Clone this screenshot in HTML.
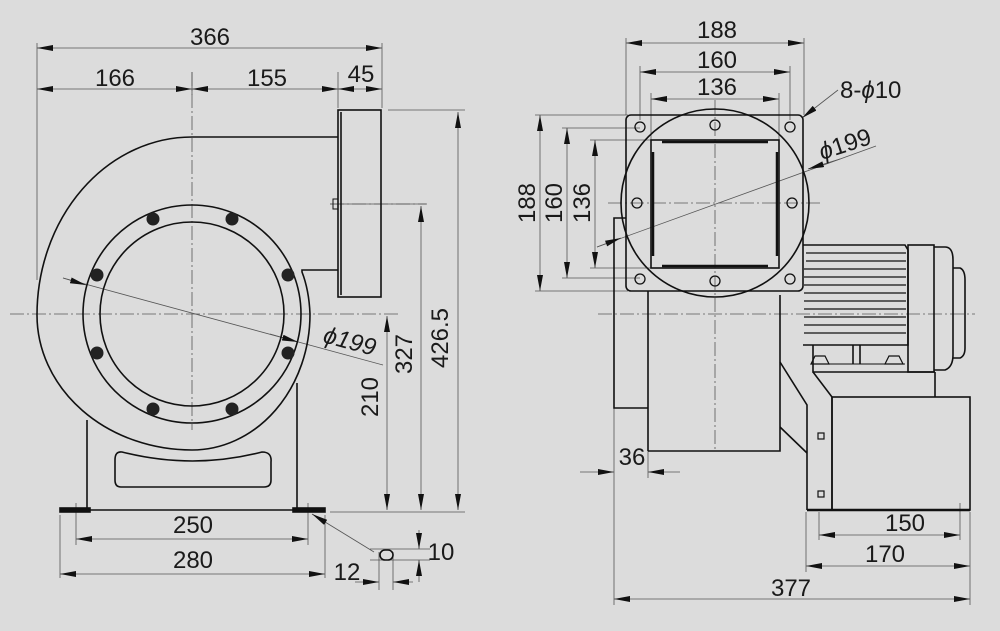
<!DOCTYPE html>
<html><head><meta charset="utf-8"><style>
html,body{margin:0;padding:0;background:#dcdcdc}
svg{display:block}
text{font-family:"Liberation Sans",Arial,sans-serif;font-size:24px;fill:#1a1a1a}
</style></head><body>
<svg width="1000" height="631" viewBox="0 0 1000 631" xmlns="http://www.w3.org/2000/svg">
<defs>
<marker id="a" viewBox="0 0 16 6" refX="16" refY="3" markerWidth="16" markerHeight="6" markerUnits="userSpaceOnUse" orient="auto-start-reverse"><path d="M0,0 L16,3 L0,6 Z" fill="#111"/></marker>
</defs>
<rect width="1000" height="631" fill="#dcdcdc"/>

<!-- ============ LEFT VIEW ============ -->
<g stroke="#555" stroke-width="0.8" fill="none">
  <line x1="37" y1="43" x2="37" y2="280"/>
  <line x1="382" y1="43" x2="382" y2="108"/>
  <line x1="338" y1="72" x2="338" y2="108"/>
  <line x1="192" y1="72" x2="192" y2="95"/>
  <line x1="388" y1="110" x2="465" y2="110"/>
  <line x1="330" y1="204" x2="427" y2="204"/>
  <line x1="330" y1="512" x2="465" y2="512"/>
  <line x1="76" y1="503" x2="76" y2="545"/>
  <line x1="308" y1="503" x2="308" y2="545"/>
  <line x1="60" y1="515" x2="60" y2="578"/>
  <line x1="325" y1="515" x2="325" y2="578"/>
  <line x1="370" y1="549" x2="430" y2="549"/>
  <line x1="370" y1="560" x2="430" y2="560"/>
  <line x1="379" y1="552" x2="379" y2="590"/>
  <line x1="393" y1="552" x2="393" y2="590"/>
  <line x1="37" y1="48" x2="382" y2="48" marker-start="url(#a)" marker-end="url(#a)"/>
  <line x1="37" y1="89" x2="192" y2="89" marker-start="url(#a)" marker-end="url(#a)"/>
  <line x1="192" y1="89" x2="338" y2="89" marker-start="url(#a)" marker-end="url(#a)"/>
  <line x1="338" y1="89" x2="382" y2="89" marker-start="url(#a)" marker-end="url(#a)"/>
  <line x1="458" y1="112" x2="458" y2="510" marker-start="url(#a)" marker-end="url(#a)"/>
  <line x1="421" y1="206" x2="421" y2="510" marker-start="url(#a)" marker-end="url(#a)"/>
  <line x1="387" y1="316" x2="387" y2="510" marker-start="url(#a)" marker-end="url(#a)"/>
  <line x1="76" y1="539" x2="308" y2="539" marker-start="url(#a)" marker-end="url(#a)"/>
  <line x1="60" y1="574" x2="325" y2="574" marker-start="url(#a)" marker-end="url(#a)"/>
  <line x1="355" y1="582" x2="379" y2="582" marker-end="url(#a)"/>
  <line x1="413" y1="582" x2="393" y2="582" marker-end="url(#a)"/>
  <line x1="419" y1="530" x2="419" y2="549" marker-end="url(#a)"/>
  <line x1="419" y1="582" x2="419" y2="560" marker-end="url(#a)"/>
  <line x1="374" y1="552" x2="312" y2="514" marker-end="url(#a)"/>
  <line x1="63" y1="278" x2="383" y2="365"/>
  <line x1="63" y1="278" x2="86" y2="285" marker-end="url(#a)"/>
  <line x1="270" y1="334" x2="298" y2="342" marker-end="url(#a)"/>
  <line x1="192" y1="72" x2="192" y2="430" stroke-dasharray="14,3,2,3"/>
  <line x1="10" y1="314" x2="398" y2="314" stroke-dasharray="14,3,2,3"/>
  <line x1="330" y1="204" x2="426" y2="204" stroke-dasharray="14,3,2,3"/>
</g>

<g stroke="#111" stroke-width="1.6" fill="none">
  <path d="M338,137 H192 A155,178 0 0 0 37,315 A155,135 0 0 0 192,450 A118,136 0 0 0 310,314 Q309,290 302,272 V270 H338"/>
  <rect x="338" y="110" width="43" height="187"/>
  <line x1="341" y1="112" x2="341" y2="295"/>
  <rect x="333" y="199" width="5" height="10" stroke-width="1"/>
  <circle cx="192" cy="314" r="109"/>
  <circle cx="192" cy="314" r="92"/>
  <line x1="87" y1="420" x2="87" y2="510"/>
  <line x1="297" y1="383" x2="297" y2="510"/>
  <path d="M122,452 Q193,470 262,452 Q272,452 271,462 V480 Q271,487 264,487 H121 Q115,487 115,480 V460 Q115,451 122,452 Z"/>
  <line x1="60" y1="510" x2="325" y2="510"/>
  <rect x="60" y="508" width="30" height="4" fill="#111"/>
  <rect x="293" y="508" width="32" height="4" fill="#111"/>
  <rect x="380" y="550" width="13" height="10" rx="5"/>
</g>
<g fill="#222">
  <circle cx="153" cy="219" r="6.5"/><circle cx="232" cy="219" r="6.5"/>
  <circle cx="97" cy="275" r="6.5"/><circle cx="288" cy="275" r="6.5"/>
  <circle cx="97" cy="353" r="6.5"/><circle cx="288" cy="353" r="6.5"/>
  <circle cx="153" cy="409" r="6.5"/><circle cx="232" cy="409" r="6.5"/>
</g>

<text x="210" y="45" text-anchor="middle">366</text>
<text x="115" y="86" text-anchor="middle">166</text>
<text x="267" y="86" text-anchor="middle">155</text>
<text x="361" y="82" text-anchor="middle">45</text>
<text transform="translate(448,338) rotate(-90)" text-anchor="middle">426.5</text>
<text transform="translate(412,354) rotate(-90)" text-anchor="middle">327</text>
<text transform="translate(378,397) rotate(-90)" text-anchor="middle">210</text>
<text transform="translate(322,342) rotate(15)" font-style="italic">ϕ199</text>
<text x="193" y="533" text-anchor="middle">250</text>
<text x="193" y="568" text-anchor="middle">280</text>
<text x="347" y="580" text-anchor="middle">12</text>
<text x="441" y="560" text-anchor="middle">10</text>

<!-- ============ RIGHT VIEW ============ -->
<g stroke="#555" stroke-width="0.8" fill="none">
  <line x1="626" y1="38" x2="626" y2="115"/>
  <line x1="804" y1="38" x2="804" y2="115"/>
  <line x1="640" y1="66" x2="640" y2="120"/>
  <line x1="790" y1="66" x2="790" y2="120"/>
  <line x1="651" y1="93" x2="651" y2="140"/>
  <line x1="779" y1="93" x2="779" y2="140"/>
  <line x1="535" y1="115" x2="628" y2="115"/>
  <line x1="535" y1="291" x2="628" y2="291"/>
  <line x1="562" y1="128" x2="640" y2="128"/>
  <line x1="562" y1="278" x2="640" y2="278"/>
  <line x1="590" y1="140" x2="651" y2="140"/>
  <line x1="590" y1="268" x2="651" y2="268"/>
  <line x1="626" y1="43" x2="804" y2="43" marker-start="url(#a)" marker-end="url(#a)"/>
  <line x1="640" y1="72" x2="790" y2="72" marker-start="url(#a)" marker-end="url(#a)"/>
  <line x1="651" y1="99" x2="779" y2="99" marker-start="url(#a)" marker-end="url(#a)"/>
  <line x1="540" y1="115" x2="540" y2="291" marker-start="url(#a)" marker-end="url(#a)"/>
  <line x1="567" y1="128" x2="567" y2="278" marker-start="url(#a)" marker-end="url(#a)"/>
  <line x1="595" y1="140" x2="595" y2="268" marker-start="url(#a)" marker-end="url(#a)"/>
  <line x1="838" y1="90" x2="802" y2="118" marker-end="url(#a)"/>
  <line x1="597" y1="247" x2="876" y2="146"/>
  <line x1="597" y1="247" x2="621" y2="238" marker-end="url(#a)"/>
  <line x1="840" y1="159" x2="808" y2="169" marker-end="url(#a)"/>
  <line x1="614" y1="408" x2="614" y2="605"/>
  <line x1="648" y1="420" x2="648" y2="478"/>
  <line x1="580" y1="472" x2="614" y2="472" marker-end="url(#a)"/>
  <line x1="680" y1="472" x2="648" y2="472" marker-end="url(#a)"/>
  <line x1="806" y1="512" x2="806" y2="572"/>
  <line x1="970" y1="512" x2="970" y2="605"/>
  <line x1="819" y1="512" x2="819" y2="540"/>
  <line x1="960" y1="503" x2="960" y2="540"/>
  <line x1="819" y1="535" x2="960" y2="535" marker-start="url(#a)" marker-end="url(#a)"/>
  <line x1="806" y1="566" x2="970" y2="566" marker-start="url(#a)" marker-end="url(#a)"/>
  <line x1="614" y1="599" x2="970" y2="599" marker-start="url(#a)" marker-end="url(#a)"/>
  <line x1="715" y1="100" x2="715" y2="450" stroke-dasharray="14,3,2,3"/>
  <line x1="608" y1="203" x2="822" y2="203" stroke-dasharray="14,3,2,3"/>
  <line x1="598" y1="314" x2="975" y2="314" stroke-dasharray="14,3,2,3"/>
</g>

<g stroke="#111" stroke-width="1.6" fill="none">
  <rect x="626" y="115" width="177" height="176" rx="5"/>
  <circle cx="715" cy="203" r="94"/>
  <rect x="651" y="140" width="128" height="128"/>
  <line x1="662" y1="142" x2="768" y2="142" stroke-width="2.5"/>
  <line x1="662" y1="266" x2="768" y2="266" stroke-width="2.5"/>
  <line x1="653" y1="152" x2="653" y2="256" stroke-width="2.5"/>
  <line x1="777" y1="152" x2="777" y2="256" stroke-width="2.5"/>
  <g stroke-width="1.3">
    <circle cx="640" cy="127" r="5"/><circle cx="790" cy="127" r="5"/>
    <circle cx="640" cy="279" r="5"/><circle cx="790" cy="279" r="5"/>
    <circle cx="715" cy="125" r="5"/><circle cx="715" cy="281" r="5"/>
    <circle cx="637" cy="203" r="5"/><circle cx="792" cy="203" r="5"/>
  </g>
  <path d="M626,218 H614 V408 H648"/>
  <line x1="648" y1="291" x2="648" y2="451"/>
  <path d="M648,451 H780 V295"/>
  <path d="M803,245 H905 L908,250 V345 H803"/>
  <g stroke-width="1.2">
    <line x1="806" y1="253" x2="906" y2="253"/><line x1="806" y1="261" x2="906" y2="261"/>
    <line x1="804" y1="269" x2="906" y2="269"/><line x1="804" y1="277" x2="906" y2="277"/>
    <line x1="804" y1="285" x2="906" y2="285"/><line x1="804" y1="293" x2="906" y2="293"/>
    <line x1="804" y1="301" x2="906" y2="301"/><line x1="804" y1="309" x2="906" y2="309"/>
    <line x1="804" y1="317" x2="906" y2="317"/><line x1="804" y1="325" x2="906" y2="325"/>
    <line x1="804" y1="333" x2="906" y2="333"/>
  </g>
  <rect x="908" y="245" width="26" height="127"/>
  <path d="M934,247 H945 Q953,247 953,260 V355 Q953,367 945,370 H934"/>
  <path d="M953,268 H960 Q965,270 965,280 V348 Q965,356 960,358 H953"/>
  <path d="M813,345 V372 H935"/>
  <line x1="853" y1="345" x2="853" y2="364"/>
  <line x1="860" y1="345" x2="860" y2="364"/>
  <line x1="826" y1="364" x2="905" y2="364" stroke-width="1"/>
  <path d="M811,364 l4,-8 h10 l4,8 Z" stroke-width="1.2"/>
  <path d="M885,364 l4,-8 h10 l4,8 Z" stroke-width="1.2"/>
  <line x1="935" y1="372" x2="935" y2="397"/>
  <path d="M780,362 L807,405 V510"/>
  <path d="M780,427 L807,453"/>
  <path d="M813,372 L832,397 V510"/>
  <rect x="832" y="397" width="138" height="113"/>
  <line x1="807" y1="510" x2="970" y2="510" stroke-width="2.5"/>
  <rect x="818" y="433" width="6" height="6" stroke-width="1.2"/>
  <rect x="818" y="491" width="6" height="6" stroke-width="1.2"/>
</g>

<text x="717" y="38" text-anchor="middle">188</text>
<text x="717" y="68" text-anchor="middle">160</text>
<text x="717" y="95" text-anchor="middle">136</text>
<text transform="translate(535,203) rotate(-90)" text-anchor="middle">188</text>
<text transform="translate(562,203) rotate(-90)" text-anchor="middle">160</text>
<text transform="translate(590,203) rotate(-90)" text-anchor="middle">136</text>
<text x="840" y="98">8-<tspan font-style="italic">ϕ</tspan>10</text>
<text transform="translate(822,160) rotate(-18)"><tspan font-style="italic">ϕ</tspan>199</text>
<text x="632" y="465" text-anchor="middle">36</text>
<text x="905" y="531" text-anchor="middle">150</text>
<text x="885" y="562" text-anchor="middle">170</text>
<text x="791" y="596" text-anchor="middle">377</text>
</svg>
</body></html>
